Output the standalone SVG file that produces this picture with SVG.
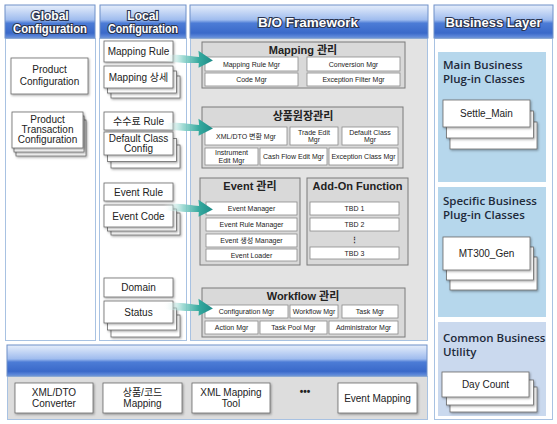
<svg xmlns="http://www.w3.org/2000/svg" width="557" height="424" viewBox="0 0 557 424">
<defs>
<linearGradient id="hdr" x1="0" y1="0" x2="0" y2="1">
<stop offset="0" stop-color="#e6eefb"/>
<stop offset="0.45" stop-color="#9fbcee"/>
<stop offset="0.55" stop-color="#4c7cd6"/>
<stop offset="0.85" stop-color="#3a69c9"/>
<stop offset="1" stop-color="#6b94e0"/>
</linearGradient>
<linearGradient id="arr" x1="0" y1="0" x2="1" y2="0">
<stop offset="0" stop-color="#ffffff" stop-opacity="0"/>
<stop offset="0.4" stop-color="#8fd4cc" stop-opacity="0.85"/>
<stop offset="0.72" stop-color="#36aa9f"/>
<stop offset="1" stop-color="#1e8c88"/>
</linearGradient>
<filter id="sh" x="-10%" y="-10%" width="130%" height="150%">
<feDropShadow dx="1" dy="1.2" stdDeviation="0.8" flood-color="#000" flood-opacity="0.35"/>
</filter>
<path id="arrow" d="M0,-3 C18,-5 28,-3 36,-3 L35,-9 L50,0 L36,8 L36,3 C26,4 16,4 0,3 Z"/>
<style>
.hdr{fill:url(#hdr);stroke:#6f90c8;stroke-width:1}
.ht{font-family:"Liberation Sans",Arial,sans-serif;font-weight:bold;fill:#fff;stroke:#2b3550;stroke-width:2.2;paint-order:stroke;text-anchor:middle}
.col{fill:#fff;stroke:#a8c2e2;stroke-width:1}
.bo{fill:#e3e3e3;stroke:#a8c2e2;stroke-width:1}
.grp{fill:#d9d9d9;stroke:#7a7a7a;stroke-width:1}
.mb{fill:#fff;stroke:#8a8a8a;stroke-width:0.8}
.bx{fill:#fff;stroke:#6a6a6a;stroke-width:0.8;filter:url(#sh)}
.t7{font-family:"Liberation Sans","Noto Sans CJK KR",sans-serif;font-size:7px;fill:#222;text-anchor:middle}
.t10{font-family:"Liberation Sans","Noto Sans CJK KR",sans-serif;font-size:10px;fill:#222;text-anchor:middle}
.gt{font-family:"Liberation Sans","Noto Sans CJK KR",sans-serif;font-size:11px;font-weight:bold;fill:#222;text-anchor:middle}
.bl{font-family:"Open Sans","Liberation Sans",sans-serif;font-size:11.5px;font-weight:600;fill:#1e2a3a}
.pnl{fill:#b6d7ec}
.arw{fill:url(#arr)}
</style>
</defs>

<g id="global-config">
<rect class="col" x="5.5" y="38.5" width="90" height="302"/>
<rect class="hdr" x="5" y="5" width="90" height="33"/>
<text class="ht" x="50" y="19.5" font-size="12">Global</text>
<text class="ht" x="50" y="33" font-size="12" textLength="74" lengthAdjust="spacingAndGlyphs">Configuration</text>
</g>

<g id="product-config">
<rect class="bx" x="11" y="58" width="77" height="36"/>
<text class="t10" x="49.5" y="73">Product</text>
<text class="t10" x="49.5" y="85">Configuration</text>
</g>

<g id="product-transaction-config">
<rect class="bx" x="16" y="120" width="70" height="36"/>
<rect class="bx" x="14" y="116" width="70" height="36"/>
<rect class="bx" x="12" y="112" width="71" height="36"/>
<text class="t10" x="47.5" y="122.5">Product</text>
<text class="t10" x="47.5" y="132.5">Transaction</text>
<text class="t10" x="47.5" y="142.5">Configuration</text>
</g>

<g id="local-config">
<rect class="col" x="99.5" y="38.5" width="87" height="302"/>
<rect class="hdr" x="100" y="5" width="86" height="33"/>
<text class="ht" x="143" y="19.5" font-size="12">Local</text>
<text class="ht" x="143" y="33" font-size="12" textLength="70" lengthAdjust="spacingAndGlyphs">Configuration</text>
</g>

<g id="mapping-rule">
<rect class="bx" x="104" y="41" width="69" height="21"/>
<text class="t10" x="138.5" y="55">Mapping Rule</text>
</g>

<g id="mapping-detail">
<rect class="bx" x="111" y="76" width="69" height="22"/>
<rect class="bx" x="107.5" y="71" width="69" height="22"/>
<rect class="bx" x="104" y="66" width="69" height="22"/>
<text class="t10" x="138.5" y="80.5">Mapping 상세</text>
</g>

<g id="fee-rule">
<rect class="bx" x="104" y="112" width="69" height="18"/>
<text class="t10" x="138.5" y="124.5">수수료 Rule</text>
</g>

<g id="default-class-config">
<rect class="bx" x="111" y="145" width="69" height="23"/>
<rect class="bx" x="107.5" y="138.5" width="69" height="23"/>
<rect class="bx" x="104" y="132" width="69" height="23"/>
<text class="t10" x="138.5" y="141.5">Default Class</text>
<text class="t10" x="138.5" y="151.5">Config</text>
</g>

<g id="event-rule">
<rect class="bx" x="104" y="183" width="69" height="18"/>
<text class="t10" x="138.5" y="195.5">Event Rule</text>
</g>

<g id="event-code">
<rect class="bx" x="111" y="213" width="69" height="22"/>
<rect class="bx" x="107.5" y="209" width="69" height="22"/>
<rect class="bx" x="104" y="205" width="69" height="22"/>
<text class="t10" x="138.5" y="219.5">Event Code</text>
</g>

<g id="domain">
<rect class="bx" x="104" y="278" width="69" height="19"/>
<text class="t10" x="138.5" y="291">Domain</text>
</g>

<g id="status">
<rect class="bx" x="111" y="315" width="69" height="22"/>
<rect class="bx" x="107.5" y="308" width="69" height="22"/>
<rect class="bx" x="104" y="301" width="69" height="22"/>
<text class="t10" x="138.5" y="315.5">Status</text>
</g>

<g id="bo-framework">
<rect class="bo" x="190.5" y="38.5" width="237" height="302"/>
<rect class="hdr" x="190" y="5" width="238" height="33"/>
<text class="ht" x="308" y="27" font-size="13.5">B/O Framework</text>
</g>

<g id="mapping-mgmt">
<rect class="grp" x="202" y="42" width="203" height="46"/>
<text class="gt" x="303" y="54">Mapping 관리</text>
<rect class="mb" x="205" y="57" width="93" height="14"/>
<text class="t7" x="251.5" y="66.5">Mapping Rule Mgr</text>
<rect class="mb" x="307" y="57" width="93" height="14"/>
<text class="t7" x="353.5" y="66.5">Conversion Mgr</text>
<rect class="mb" x="205" y="73" width="93" height="13"/>
<text class="t7" x="251.5" y="82">Code Mgr</text>
<rect class="mb" x="307" y="73" width="93" height="13"/>
<text class="t7" x="353.5" y="82">Exception Filter Mgr</text>
</g>

<g id="product-ledger-mgmt">
<rect class="grp" x="202" y="107" width="201" height="61"/>
<text class="gt" x="303" y="119.5">상품원장관리</text>
<rect class="mb" x="205" y="127" width="82" height="18"/>
<text class="t7" x="246" y="138.5">XML/DTO 변환 Mgr</text>
<rect class="mb" x="290" y="127" width="48" height="18"/>
<text class="t7" x="314" y="134.5">Trade Edit</text>
<text class="t7" x="314" y="142">Mgr</text>
<rect class="mb" x="342" y="127" width="56" height="18"/>
<text class="t7" x="370" y="134.5">Default Class</text>
<text class="t7" x="370" y="142">Mgr</text>
<rect class="mb" x="205" y="148" width="53" height="17"/>
<text class="t7" x="231.5" y="155">Instrument</text>
<text class="t7" x="231.5" y="162.5">Edit Mgr</text>
<rect class="mb" x="260" y="148" width="67" height="17"/>
<text class="t7" x="293.5" y="159">Cash Flow Edit Mgr</text>
<rect class="mb" x="329" y="148" width="69" height="17"/>
<text class="t7" x="363.5" y="159">Exception Class Mgr</text>
</g>

<g id="event-mgmt">
<rect class="grp" x="200" y="178" width="100" height="87"/>
<text class="gt" x="250" y="190">Event 관리</text>
<rect class="mb" x="206" y="202" width="91" height="13"/>
<text class="t7" x="251.5" y="211">Event Manager</text>
<rect class="mb" x="206" y="218" width="91" height="13"/>
<text class="t7" x="251.5" y="227">Event Rule Manager</text>
<rect class="mb" x="206" y="234" width="91" height="13"/>
<text class="t7" x="251.5" y="243">Event 생성 Manager</text>
<rect class="mb" x="206" y="249" width="91" height="12"/>
<text class="t7" x="251.5" y="257.5">Event Loader</text>
</g>

<g id="addon-function">
<rect class="grp" x="307" y="178" width="101" height="87"/>
<text class="gt" x="357.5" y="190">Add-On Function</text>
<rect class="mb" x="310" y="202" width="89" height="13"/>
<text class="t7" x="354.5" y="211">TBD 1</text>
<rect class="mb" x="310" y="218" width="89" height="13"/>
<text class="t7" x="354.5" y="227">TBD 2</text>
<text class="t7" x="354.5" y="242" font-weight="bold" font-size="9">⋮</text>
<rect class="mb" x="310" y="247" width="89" height="12"/>
<text class="t7" x="354.5" y="255.5">TBD 3</text>
</g>

<g id="workflow-mgmt">
<rect class="grp" x="202" y="288" width="203" height="49"/>
<text class="gt" x="303" y="300">Workflow 관리</text>
<rect class="mb" x="205" y="305" width="83" height="13"/>
<text class="t7" x="246.5" y="314">Configuration Mgr</text>
<rect class="mb" x="290" y="305" width="48" height="13"/>
<text class="t7" x="314" y="314">Workflow Mgr</text>
<rect class="mb" x="342" y="305" width="56" height="13"/>
<text class="t7" x="370" y="314">Task Mgr</text>
<rect class="mb" x="205" y="321" width="53" height="13"/>
<text class="t7" x="231.5" y="330">Action Mgr</text>
<rect class="mb" x="260" y="321" width="67" height="13"/>
<text class="t7" x="293.5" y="330">Task Pool Mgr</text>
<rect class="mb" x="329" y="321" width="69" height="13"/>
<text class="t7" x="363.5" y="330">Administrator Mgr</text>
</g>

<g id="connectors">
<use href="#arrow" class="arw" transform="translate(163,58) rotate(3)"/>
<use href="#arrow" class="arw" transform="translate(163,126) rotate(3)"/>
<use href="#arrow" class="arw" transform="translate(163,207) rotate(3)"/>
<use href="#arrow" class="arw" transform="translate(163,306) rotate(3)"/>
</g>

<g id="business-layer">
<rect class="col" x="434.5" y="38.5" width="118" height="381"/>
<rect class="hdr" x="434" y="5" width="119" height="33"/>
<text class="ht" x="493.5" y="27" font-size="13">Business Layer</text>
</g>

<g id="main-business">
<rect class="pnl" x="438" y="52" width="108" height="130"/>
<text class="bl" x="443" y="69">Main Business</text>
<text class="bl" x="443" y="83">Plug-in Classes</text>
</g>

<g id="settle-main">
<rect class="bx" x="450" y="122" width="87" height="27"/>
<rect class="bx" x="446.5" y="111" width="87" height="27"/>
<rect class="bx" x="443" y="100" width="87" height="27"/>
<text class="t10" x="486.5" y="117" font-size="9.5">Settle_Main</text>
</g>

<g id="specific-business">
<rect class="pnl" x="438" y="187" width="108" height="130"/>
<text class="bl" x="443" y="205">Specific Business</text>
<text class="bl" x="443" y="219">Plug-in Classes</text>
</g>

<g id="mt300-gen">
<rect class="bx" x="450" y="257" width="87" height="33"/>
<rect class="bx" x="446.5" y="247" width="87" height="33"/>
<rect class="bx" x="443" y="237" width="87" height="33"/>
<text class="t10" x="486.5" y="257" font-size="9.5">MT300_Gen</text>
</g>

<g id="common-business">
<rect fill="#cad9ee" x="438" y="322" width="108" height="94"/>
<text class="bl" x="443" y="342">Common Business</text>
<text class="bl" x="443" y="356">Utility</text>
</g>

<g id="day-count">
<rect class="bx" x="450" y="387" width="87" height="25"/>
<rect class="bx" x="446.5" y="380" width="87" height="25"/>
<rect class="bx" x="442" y="372" width="87" height="25"/>
<text class="t10" x="485.5" y="388" font-size="9.5">Day Count</text>
</g>

<g id="bottom-layer">
<rect fill="#dddddd" stroke="#a8c2e2" x="7.5" y="376.5" width="420" height="43"/>
<rect class="hdr" x="7" y="345" width="420" height="31"/>
</g>

<g id="xml-dto-converter">
<rect class="bx" x="15" y="383" width="78" height="30"/>
<text class="t10" x="54" y="395.5">XML/DTO</text>
<text class="t10" x="54" y="406.5">Converter</text>
</g>

<g id="product-code-mapping">
<rect class="bx" x="103" y="383" width="79" height="30"/>
<text class="t10" x="142.5" y="395.5">상품/코드</text>
<text class="t10" x="142.5" y="406.5">Mapping</text>
</g>

<g id="xml-mapping-tool">
<rect class="bx" x="192" y="383" width="78" height="30"/>
<text class="t10" x="231" y="395.5">XML Mapping</text>
<text class="t10" x="231" y="406.5">Tool</text>
</g>

<g id="ellipsis">
<text class="t10" x="305" y="395" font-weight="bold">•••</text>
</g>

<g id="event-mapping">
<rect class="bx" x="338" y="383" width="79" height="30"/>
<text class="t10" x="377.5" y="401.5" font-size="9.5">Event Mapping</text>
</g>
</svg>
